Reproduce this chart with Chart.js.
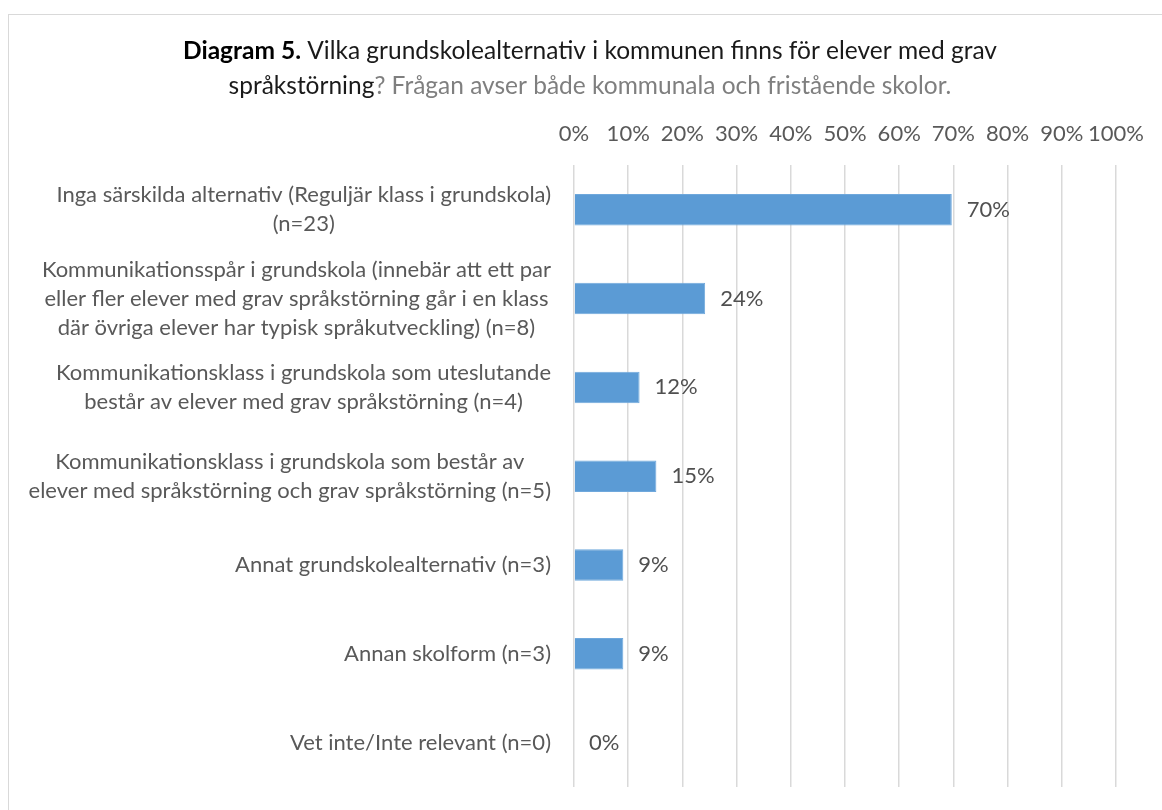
<!DOCTYPE html>
<html>
<head>
<meta charset="utf-8">
<script src="https://cdn.jsdelivr.net/npm/chart.js@4"></script>
<style>
  html, body { margin: 0; padding: 0; background: #fff; overflow: hidden; }
  #wrap { position: absolute; left: 0; top: 0; width: 1162px; height: 810px; }
  #frame { position: absolute; left: 8px; top: 14px; width: 1200px; height: 900px;
           border-left: 1px solid #d9d9d9; border-top: 1px solid #d9d9d9; }
</style>
</head>
<body>
<div id="wrap">
  <div id="frame"></div>
  <canvas id="chart" width="1162" height="810"></canvas>
</div>
<script>
const categories = [
  ['Inga särskilda alternativ (Reguljär klass i grundskola)', '(n=23)'],
  ['Kommunikationsspår i grundskola (innebär att ett par', 'eller fler elever med grav språkstörning går i en klass', 'där övriga elever har typisk språkutveckling) (n=8)'],
  ['Kommunikationsklass i grundskola som uteslutande', 'består av elever med grav språkstörning (n=4)'],
  ['Kommunikationsklass i grundskola som består av', 'elever med språkstörning och grav språkstörning (n=5)'],
  ['Annat grundskolealternativ (n=3)'],
  ['Annan skolform (n=3)'],
  ['Vet inte/Inte relevant (n=0)']
];
const shares = [0.697, 0.242, 0.121, 0.152, 0.091, 0.091, 0];
const xTickLabels = ['0%', '10%', '20%', '30%', '40%', '50%', '60%', '70%', '80%', '90%', '100%'];

const FONT = "Lato, sans-serif";
const titleLines = [
  [['Diagram 5.', 'bold', '#000000'], [' Vilka grundskolealternativ i kommunen finns för elever med grav', 'normal', '#1a1a1a']],
  [['språkstörning', 'normal', '#1a1a1a'], ['? Frågan avser både kommunala och fristående skolor.', 'normal', '#7f7f7f']]
];

const titlePlugin = {
  id: 'mixedTitle',
  afterDraw(chart) {
    const c = chart.ctx;
    c.save();
    c.textBaseline = 'middle';
    const ys = [51, 86];
    titleLines.forEach((parts, li) => {
      let total = 0;
      parts.forEach(p => { c.font = p[1] + ' 24.5px ' + FONT; total += c.measureText(p[0]).width; });
      let x = 590 - total / 2;
      parts.forEach(p => {
        c.font = p[1] + ' 24.5px ' + FONT;
        c.fillStyle = p[2];
        c.textAlign = 'left';
        c.fillText(p[0], x, ys[li]);
        x += c.measureText(p[0]).width;
      });
    });
    c.restore();
  }
};

const catLabelPlugin = {
  id: 'catLabels',
  afterDraw(chart) {
    const c = chart.ctx;
    const yScale = chart.scales.y;
    c.save();
    c.font = '22px ' + FONT;
    c.fillStyle = '#595959';
    c.textAlign = 'center';
    c.textBaseline = 'middle';
    const lh = 29;
    categories.forEach((lines, i) => {
      const yc = yScale.getPixelForValue(i);
      const w = Math.max(...lines.map(l => c.measureText(l).width));
      const cx = 551 - w / 2;
      const y0 = yc - (lines.length - 1) * lh / 2;
      lines.forEach((l, k) => c.fillText(l, cx, y0 + k * lh));
    });
    c.restore();
  }
};

const valuePlugin = {
  id: 'values',
  afterDatasetsDraw(chart) {
    const c = chart.ctx;
    const meta = chart.getDatasetMeta(0);
    c.save();
    c.font = '22px ' + FONT;
    c.fillStyle = '#505050';
    c.textAlign = 'left';
    c.textBaseline = 'middle';
    meta.data.forEach((bar, i) => {
      c.fillText(Math.round(shares[i] * 100) + '%', bar.x + 15, bar.y);
    });
    c.restore();
  }
};

new Chart(document.getElementById('chart'), {
  type: 'bar',
  data: {
    labels: categories,
    datasets: [{
      data: shares,
      backgroundColor: '#5b9bd5',
      borderColor: '#6fa8dc',
      borderWidth: 1,
      barPercentage: 0.355,
      categoryPercentage: 1
    }]
  },
  options: {
    indexAxis: 'y',
    responsive: false,
    animation: false,
    layout: { padding: { left: 574, right: 46, top: 103, bottom: 23 } },
    plugins: {
      legend: { display: false },
      tooltip: { enabled: false }
    },
    scales: {
      x: {
        position: 'top',
        min: 0,
        max: 1,
        border: { display: false },
        grid: { color: '#d9d9d9', lineWidth: 1.5, drawTicks: false },
        ticks: {
          stepSize: 0.1,
          padding: 18,
          maxRotation: 0,
          minRotation: 0,
          autoSkip: false,
          color: '#595959',
          font: { family: FONT, size: 22 },
          callback: (v, i) => xTickLabels[i]
        }
      },
      y: {
        display: false
      }
    }
  },
  plugins: [titlePlugin, catLabelPlugin, valuePlugin]
});
</script>
</body>
</html>
